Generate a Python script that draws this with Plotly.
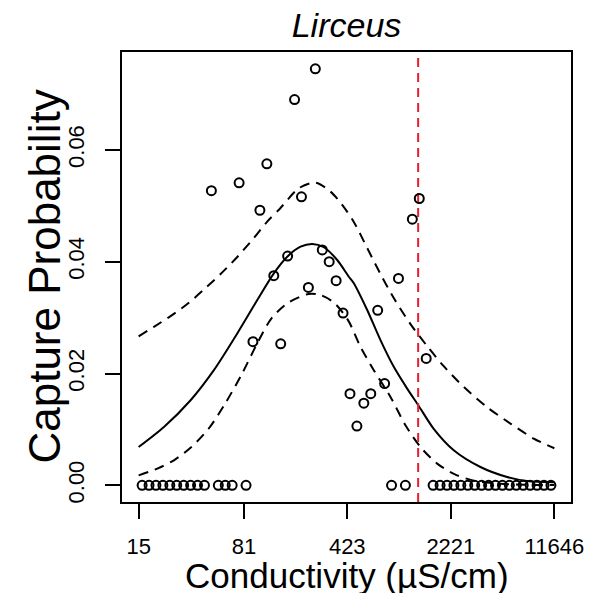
import plotly.graph_objects as go

# ---- data ----
cond_bins = [15.86, 17.72, 19.79, 22.12, 24.71, 27.61, 30.85, 34.47, 38.51, 43.03,
             48.07, 53.71, 60.01, 67.05, 74.92, 83.71, 93.52, 104.5, 116.8, 130.5,
             145.8, 162.9, 182.0, 203.3, 227.1, 253.8, 283.6, 316.8, 354.0, 395.5,
             441.9, 493.7, 551.6, 616.3, 688.6, 769.4, 859.7, 960.5, 1073, 1199,
             1340, 1497, 1672, 1869, 2088, 2333, 2606, 2912, 3254, 3635,
             4062, 4538, 5070, 5665, 6330, 7072, 7901, 8828, 9864, 11021]
capture_prob = [0, 0, 0, 0, 0, 0, 0, 0, 0, 0,
                0.0527, 0, 0, 0, 0.0541, 0, 0.0257, 0.0492, 0.0575, 0.0375,
                0.0253, 0.0410, 0.0690, 0.0516, 0.0354, 0.0745, 0.0421, 0.0400, 0.0366, 0.0308,
                0.0164, 0.0106, 0.0147, 0.0164, 0.0313, 0.0182, 0, 0.0370, 0, 0.0476,
                0.0513, 0.0227, 0, 0, 0, 0, 0, 0, 0, 0,
                0, 0, 0, 0, 0, 0, 0, 0, 0, 0]

fit_x = [15, 22.49, 34.46, 50.03, 72.75, 100.2, 130.6, 161.9, 200.3, 241.5, 290.8, 360.2,
         433.7, 469.8, 582.1, 720.0, 890.9, 1104, 1329, 1689, 2326, 3566, 5467, 7524, 11646]
fit_y = [0.00686, 0.01044, 0.01522, 0.02060, 0.02717, 0.03314, 0.03792, 0.04089, 0.04268,
         0.04317, 0.04258, 0.04030, 0.03731, 0.03613, 0.03135, 0.02597, 0.02119, 0.01730,
         0.01420, 0.01010, 0.00627, 0.00328, 0.00149, 0.00077, 0.00054]

upper_x = [15, 19.16, 25.02, 32.69, 42.64, 55.69, 72.75, 94.87, 117.5, 145.4, 194.9, 254.6,
           323.6, 390.2, 469.8, 582.1, 720.0, 890.9, 1164, 1520, 1982, 2730, 3969, 5763, 8363, 11646]
upper_y = [0.02665, 0.02835, 0.03027, 0.03242, 0.03502, 0.03779, 0.04084, 0.04424, 0.04716,
           0.04961, 0.05314, 0.05415, 0.05253, 0.05015, 0.04711, 0.04245, 0.03779, 0.03349,
           0.02884, 0.02490, 0.02131, 0.01761, 0.01397, 0.01105, 0.00836, 0.00663]

lower_x = [15, 20.23, 26.38, 34.91, 45.96, 59.84, 78.56, 101.5, 126.9, 165.3, 227.6, 275.8,
           341.2, 428.2, 522.9, 646.9, 845.0, 1074, 1365, 1784, 2390, 3204, 4909, 7933, 11646]
lower_y = [0.00179, 0.00299, 0.00448, 0.00686, 0.01012, 0.01460, 0.01997, 0.02570, 0.03000,
           0.03269, 0.03421, 0.03403, 0.03269, 0.02955, 0.02477, 0.02060, 0.01582, 0.01075,
           0.00686, 0.00389, 0.00192, 0.00084, 0.00027, 0.00009, 0.00004]

threshold = 1316
x_ticks = [15, 81, 423, 2221, 11646]
y_ticks = [0.00, 0.02, 0.04, 0.06]
y_range = [-0.00298, 0.0775]
x_range_log = [1.0605, 4.1818]

FONT = "Liberation Sans, Arial, Helvetica, sans-serif"

# The page body has an 8px default margin, so the figure is sized to fit inside
# the 604x601 window and the margins are shifted accordingly.
W, H = 588, 585
L, R, T, B = 114, 25, 44, 91
PH = H - T - B
PW = W - L - R

fig = go.Figure()
fig.add_trace(go.Scatter(x=upper_x, y=upper_y, mode="lines",
                         line=dict(color="black", width=2, dash="10px,7px", shape="spline", smoothing=0.8),
                         hoverinfo="skip"))
fig.add_trace(go.Scatter(x=lower_x, y=lower_y, mode="lines",
                         line=dict(color="black", width=2, dash="10px,7px", shape="spline", smoothing=0.8),
                         hoverinfo="skip"))
fig.add_trace(go.Scatter(x=fit_x, y=fit_y, mode="lines",
                         line=dict(color="black", width=2, shape="spline", smoothing=0.8)))
fig.add_trace(go.Scatter(x=[threshold, threshold], y=y_range, mode="lines",
                         line=dict(color="#E3202B", width=2, dash="9px,6px")))
fig.add_trace(go.Scatter(x=cond_bins, y=capture_prob, mode="markers",
                         marker=dict(symbol="circle-open", size=9, color="black",
                                     line=dict(width=2, color="black"))))

fig.update_layout(
    width=W, height=H,
    margin=dict(l=L, r=R, t=T, b=B, autoexpand=False),
    paper_bgcolor="white", plot_bgcolor="white",
    showlegend=False,
    font=dict(family=FONT, color="black"),
    title=dict(text="Lirceus", x=0.5, xref="paper", xanchor="center",
               y=1 - 17 / H, yref="container", yanchor="middle",
               font=dict(size=34, style="italic", family=FONT, color="black")),
)
fig.update_xaxes(type="log", range=x_range_log, tickvals=x_ticks,
                 ticktext=[str(v) for v in x_ticks], automargin=False,
                 showgrid=False, zeroline=False, showline=True, mirror=True,
                 linecolor="black", linewidth=2, ticks="outside", ticklen=15,
                 tickwidth=2, tickcolor="black", tickfont=dict(size=22),
                 ticklabelstandoff=9)
fig.update_yaxes(range=y_range, tickvals=y_ticks, automargin=False,
                 ticktext=["0.00", "0.02", "0.04", "0.06"],
                 showgrid=False, zeroline=False, showline=True, mirror=True,
                 linecolor="black", linewidth=2, ticks="outside", ticklen=15,
                 tickwidth=2, tickcolor="black", tickfont=dict(size=22),
                 tickangle=-90, ticklabelstandoff=12)

fig.add_annotation(text="Conductivity (µS/cm)", xref="paper", yref="paper",
                   x=0.5, y=(H - B - 567) / PH, xanchor="center", yanchor="middle",
                   showarrow=False, font=dict(size=35, family=FONT, color="black"))
fig.add_annotation(text="Capture Probability", xref="paper", yref="paper",
                   x=(37 - L) / PW, y=0.501, xanchor="center", yanchor="middle",
                   textangle=-90, showarrow=False,
                   font=dict(size=44, family=FONT, color="black"))

fig.write_html("out.html")
